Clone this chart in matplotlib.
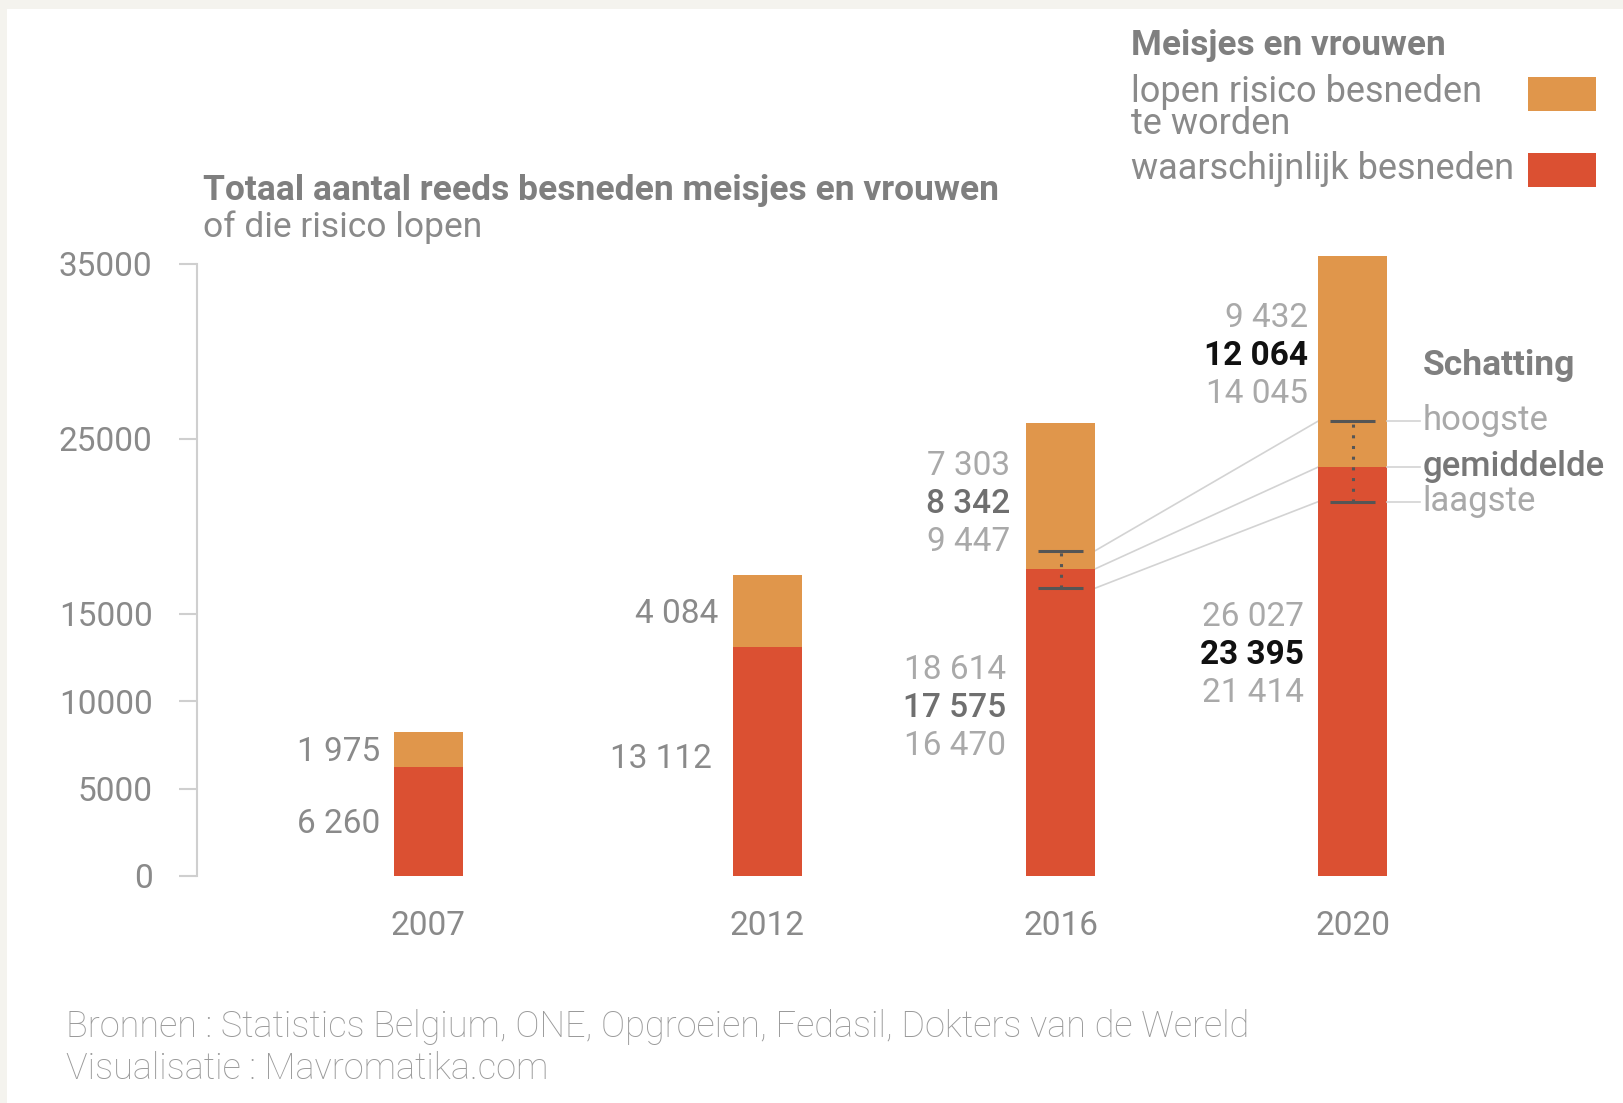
import matplotlib
matplotlib.use("Agg")
import matplotlib.pyplot as plt
from matplotlib.patches import Rectangle

# ---------------- data ----------------
years = ["2007", "2012", "2016", "2020"]
circumcised = [6260, 13112, 17575, 23395]      # waarschijnlijk besneden (gemiddelde)
at_risk = [1975, 4084, 8342, 12064]             # lopen risico besneden te worden (gemiddelde)
circ_high = [None, None, 18614, 26027]          # schatting hoogste (besneden)
circ_low = [None, None, 16470, 21414]           # schatting laagste (besneden)
risk_low = [None, None, 7303, 9432]             # risico bij hoogste schatting besneden
risk_high = [None, None, 9447, 14045]           # risico bij laagste schatting besneden
yticks = [0, 5000, 10000, 15000, 25000, 35000]

# ---------------- layout / style ----------------
W, H = 1624, 1103
bar_x = [428.5, 767.5, 1061, 1353]   # bar centres along the x axis (axis units = px)
bar_w = 69
ORANGE = "#e0964b"
RED = "#db5032"
GREY = "#8a8a8a"
LIGHT = "#a9a9a9"
FONT = ["Roboto", "DejaVu Sans"]
plt.rcParams["font.family"] = FONT


def fy(y):
    return 1 - y / H


def fx(x):
    return x / W


fig = plt.figure(figsize=(W / 100, H / 100), dpi=100)
fig.patch.set_facecolor("#f4f3ee")
fig.patches.append(Rectangle((fx(7), 0), 1, fy(9), transform=fig.transFigure,
                             facecolor="white", edgecolor="none", zorder=-10))

ax = fig.add_axes([fx(197), fy(876), (W - 197) / W, 612 / H])
ax.set_facecolor("none")
ax.set_xlim(197, W)
ax.set_ylim(0, 35000)
for s in ["top", "right", "bottom"]:
    ax.spines[s].set_visible(False)
ax.spines["left"].set_bounds(0, 35000)
ax.spines["left"].set_color("#cfcfcf")
ax.spines["left"].set_linewidth(1.5)
ax.set_yticks(yticks)
ax.set_yticklabels([str(v) for v in yticks])
ax.tick_params(axis="y", length=13, width=1.5, color="#cfcfcf", pad=19,
               labelsize=24, labelcolor=GREY)
ax.set_xticks([])

# bars
ax.bar(bar_x, circumcised, width=bar_w, color=RED, clip_on=False, zorder=2)
ax.bar(bar_x, at_risk, bottom=circumcised, width=bar_w, color=ORANGE,
       clip_on=False, zorder=2)

# year labels
for x, yr in zip(bar_x, years):
    ax.annotate(yr, xy=(x, 0), xytext=(0, -59), textcoords="offset pixels",
                ha="center", va="baseline", fontsize=24, color=GREY,
                annotation_clip=False)


def fmt(v):
    return f"{v:,}".replace(",", " ")


def num(x, y, text, dx, dy, color, weight):
    ax.annotate(text, xy=(x, y), xytext=(dx, dy - 12), textcoords="offset pixels",
                ha="right", va="baseline", fontsize=24, color=color,
                fontweight=weight, annotation_clip=False)


# label offsets (px): dx for orange / red, dy of stack centre vs. segment middle
dx_or = [-14, -15, -16, -10]
dx_rd = [-14, -21, -20, -14]
dy_or = [0, 0, -5, 8]
dy_rd = [0, 5, 17, 19]
emph = [None, None, ("#6f6f6f", "medium"), ("#111111", "bold")]
step = 38

for i, x in enumerate(bar_x):
    left = x - bar_w / 2
    red_mid = circumcised[i] / 2
    or_mid = circumcised[i] + at_risk[i] / 2
    if emph[i] is None:
        num(left, or_mid, fmt(at_risk[i]), dx_or[i], dy_or[i], GREY, "normal")
        num(left, red_mid, fmt(circumcised[i]), dx_rd[i], dy_rd[i], GREY, "normal")
    else:
        c, w = emph[i]
        trip_or = [risk_low[i], at_risk[i], risk_high[i]]
        trip_rd = [circ_high[i], circumcised[i], circ_low[i]]
        for k in range(3):
            col, wt = (c, w) if k == 1 else (LIGHT, "normal")
            num(left, or_mid, fmt(trip_or[k]), dx_or[i], dy_or[i] + step * (1 - k), col, wt)
            num(left, red_mid, fmt(trip_rd[k]), dx_rd[i], dy_rd[i] + step * (1 - k), col, wt)
        # error bar
        ax.plot([x, x], [circ_low[i], circ_high[i]], color="#555555", lw=2.2,
                ls=(0, (1, 2.5)), zorder=4, clip_on=False)
        ax.hlines([circ_low[i], circ_high[i]], x - 22.5, x + 22.5, color="#555555",
                  lw=2.2, zorder=4, clip_on=False)

# leader lines 2016 -> 2020
for a, b in [(circ_high[2], circ_high[3]), (circumcised[2], circumcised[3]),
             (circ_low[2], circ_low[3])]:
    ax.plot([bar_x[2] + bar_w / 2, bar_x[3] - bar_w / 2], [a, b], color="#d3d3d3",
            lw=1.2, zorder=1, clip_on=False)

# estimate labels on the right of 2020
est_labels = [("hoogste", circ_high[3], LIGHT, "normal"),
              ("gemiddelde", circumcised[3], "#777777", "medium"),
              ("laagste", circ_low[3], LIGHT, "normal")]
xr = bar_x[3] + bar_w / 2
for text, v, col, wt in est_labels:
    ax.plot([xr, xr + 33], [v, v], color="#d3d3d3", lw=1.2, clip_on=False)
    ax.annotate(text, xy=(xr + 35, v), xytext=(0, -9), textcoords="offset pixels",
                ha="left", va="baseline", fontsize=25, color=col, fontweight=wt,
                annotation_clip=False)
fig.text(fx(1423), fy(375), "Schatting", fontsize=25.5, fontweight="bold",
         color="#7f7f7f", ha="left", va="baseline")

# titles
fig.text(fx(203), fy(200), "Totaal aantal reeds besneden meisjes en vrouwen",
         fontsize=25.5, fontweight="bold", color="#7f7f7f", ha="left", va="baseline")
fig.text(fx(203), fy(237), "of die risico lopen", fontsize=25.5, color=GREY,
         ha="left", va="baseline")

# legend
fig.text(fx(1131), fy(55), "Meisjes en vrouwen", fontsize=25.3, fontweight="bold",
         color="#7f7f7f", ha="left", va="baseline")
fig.text(fx(1131), fy(101.5), "lopen risico besneden", fontsize=26, color=GREY,
         ha="left", va="baseline")
fig.text(fx(1131), fy(134.5), "te worden", fontsize=26, color=GREY,
         ha="left", va="baseline")
fig.text(fx(1131), fy(179), "waarschijnlijk besneden", fontsize=26, color=GREY,
         ha="left", va="baseline")
fig.patches.append(Rectangle((fx(1528), fy(111)), 68 / W, 34 / H,
                             transform=fig.transFigure, facecolor=ORANGE, edgecolor="none"))
fig.patches.append(Rectangle((fx(1528), fy(187.5)), 68 / W, 34.5 / H,
                             transform=fig.transFigure, facecolor=RED, edgecolor="none"))

# footer
fig.text(fx(66), fy(1037),
         "Bronnen : Statistics Belgium, ONE, Opgroeien, Fedasil, Dokters van de Wereld",
         fontsize=26, color="#9a9a9a", fontweight="light", ha="left", va="baseline")
fig.text(fx(66), fy(1079), "Visualisatie : Mavromatika.com", fontsize=26,
         color="#9a9a9a", fontweight="light", ha="left", va="baseline")

fig.savefig("out.png", dpi=100, facecolor=fig.get_facecolor())
